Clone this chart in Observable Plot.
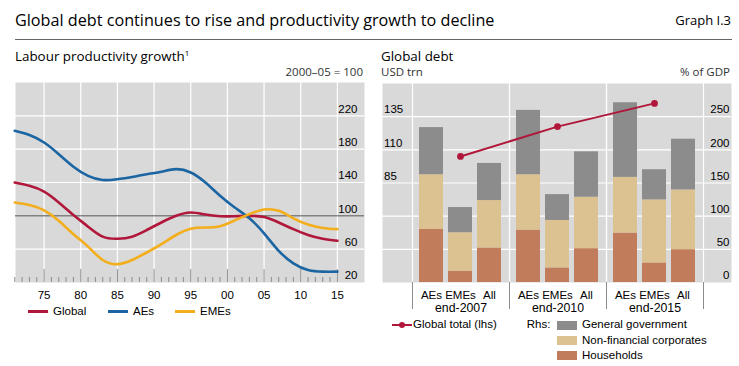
<!DOCTYPE html>
<html>
<head>
<meta charset="utf-8">
<script src="https://cdn.jsdelivr.net/npm/d3@7"></script>
<script src="https://cdn.jsdelivr.net/npm/@observablehq/plot@0.6"></script>
<style>
  html,body{margin:0;padding:0;background:#fff;}
  #chart{position:relative;width:739px;height:366px;overflow:hidden;font-family:"Liberation Sans",Arial,sans-serif;color:#000;}
  .a{position:absolute;white-space:nowrap;line-height:1;}
  .hum{font-family:"Open Sans",sans-serif;}
  .lg{font-size:11.5px;}
  svg{display:block;}
</style>
</head>
<body>
<div id="chart">
  <div class="a hum" style="left:15px;top:12.3px;font-size:16.2px;">Global debt continues to rise and productivity growth to decline</div>
  <div class="a hum" style="right:8px;top:14px;font-size:13px;">Graph I.3</div>
  <div class="a" style="left:15px;top:39px;width:717px;height:1px;background:#666;"></div>
  <div class="a hum" style="left:15px;top:49.8px;font-size:13.4px;">Labour productivity growth<sup style="font-size:8px;vertical-align:5px;line-height:0;">1</sup></div>
  <div class="a hum" style="right:376px;top:65.5px;font-size:11.5px;color:#333;">2000–05 = 100</div>
  <div class="a hum" style="left:381px;top:49.8px;font-size:13.4px;">Global debt</div>
  <div class="a hum" style="left:381px;top:65.5px;font-size:11.5px;color:#333;">USD trn</div>
  <div class="a hum" style="right:9px;top:65.5px;font-size:11.5px;color:#333;">% of GDP</div>
  <div class="a" id="leftPlot" style="left:15px;top:82px;"></div>
  <div class="a" id="rightBase" style="left:382px;top:83px;"></div>
  <div class="a" id="rightBars" style="left:382px;top:83px;"></div>
  <div class="a" id="rightLine" style="left:382px;top:83px;"></div>
  <div id="leftLegend"></div>
  <div id="rightLegend"></div>
</div>
<script>
// ---------- Left panel data: labour productivity (2000–05 = 100) ----------
const years      = [1971,1973,1975,1977,1979,1981,1983,1985,1987,1989,1991,1993,1995,1997,1999,2001,2003,2005,2007,2009,2011,2013,2015];
const globalProd = [140,136,129,116,101,87,75,72.5,75,83,92,100,104,101.5,99.5,99.5,100,98.5,92,84,77,72.5,70];
const aesProd    = [202,197,188,174,159,148,143,144,146.5,150,153,156,152,140,124,110,97,79,58,43,35,33,33];
const emesProd   = [116,113,106.5,94,78,63,47,42,47,56,66,77,84.5,86,87.5,94.5,102,107.5,106,97,89.5,85.5,84];
const seriesNames  = ["Global","AEs","EMEs"];
const seriesColors = ["#b0173a","#1c65a3","#f3ae1b"];
const yearTicks  = [1975,1980,1985,1990,1995,2000,2005,2010,2015];
const minorYears = d3.range(1971, 2016);
const prodTicks  = [20,60,100,140,180,220];

// ---------- Right panel data: global debt ----------
const periods    = ["end-2007","end-2010","end-2015"];
const regions    = ["AEs","EMEs","All"];
const components = ["Households","Non-financial corporates","General government"];
const compColors = ["#c07c5b","#dcc290","#8c8c8c"];
// % of GDP (rhs), ordered period × region
const households = [80,17,52, 79,22,51, 74.5,29.5,49.5];
const nonFinCorp = [82.5,58,71.5, 83.5,71.5,77.5, 84,95,90];
const generalGov = [71,38,56, 97,39,68.5, 112.5,45.5,76.5];
// USD trn (lhs)
const globalTotal = [105,127.5,145];
const gdpTicks = [0,50,100,150,200,250];
const usdTicks = [85,110,135];
const debtRed = "#b0173a";

// ---------- tables ----------
const prodSeries = [globalProd, aesProd, emesProd];
const prodRows = seriesNames.flatMap((s,i) => years.map((y,j) => ({series:s, year:y, value:prodSeries[i][j]})));
const compSeries = [households, nonFinCorp, generalGov];
const debtRows = periods.flatMap((p,pi) => regions.flatMap((r,ri) => components.map((c,ci) => ({period:p, region:r, component:c, value:compSeries[ci][pi*3+ri]}))));
const totalRows = periods.map((p,i) => ({period:p, value:globalTotal[i]}));

const baseStyle = {background:"transparent", fontFamily:"Liberation Sans, Arial, sans-serif", fontSize:"11.5px", color:"#000", overflow:"visible"};

// ---------- Left plot ----------
const leftPlot = Plot.plot({
  width: 349, height: 222, marginTop: 0, marginRight: 0, marginBottom: 22, marginLeft: 0,
  style: baseStyle,
  x: {domain: [1971.1, 2018.7], label: null},
  y: {domain: [20, 260], label: null},
  color: {domain: seriesNames, range: seriesColors},
  marks: [
    Plot.frame({fill: "#d9d9d9", stroke: null}),
    Plot.ruleX(yearTicks, {stroke: "#fff", strokeWidth: 1.2}),
    Plot.ruleY(prodTicks.filter(v => v !== 20 && v !== 100), {stroke: "#fff", strokeWidth: 1.2}),
    Plot.ruleY([100], {stroke: "#555", strokeWidth: 1}),
    Plot.ruleX(minorYears, {x: d => d, y1: 20, y2: d => (d % 5 === 0 ? 35.5 : 26), stroke: "#8c8c8c", strokeWidth: 1}),
    Plot.line(prodRows, {x: "year", y: "value", z: "series", stroke: "series", strokeWidth: 2.6, curve: "natural"}),
    Plot.axisX(yearTicks, {tickSize: 0, tickPadding: 8, tickFormat: d => String(d % 100).padStart(2, "0")}),
    Plot.axisY(prodTicks, {anchor: "right", tickSize: 0, tickPadding: 0, textAnchor: "end", dx: -7, dy: -7})
  ]
});
document.getElementById("leftPlot").appendChild(leftPlot);

// ---------- Right plots ----------
const W = 349, PH = 199;
const baseR = Plot.plot({
  width: W, height: PH, marginTop: 0, marginRight: 0, marginBottom: 0, marginLeft: 0,
  style: baseStyle,
  y: {domain: [0, 300], label: null},
  marks: [
    Plot.frame({fill: "#d9d9d9", stroke: null}),
    Plot.ruleY(gdpTicks.filter(v => v > 0), {stroke: "#fff", strokeWidth: 1.2}),
    Plot.axisY(gdpTicks, {anchor: "right", tickSize: 0, tickPadding: 0, textAnchor: "end", dx: -2, dy: -7})
  ]
});
document.getElementById("rightBase").appendChild(baseR);

const barsR = Plot.plot({
  width: W, height: PH + 32, marginTop: 0, marginBottom: 32, marginLeft: 29, marginRight: 28,
  style: baseStyle,
  fx: {domain: periods, padding: 0, label: null},
  x: {domain: regions, paddingInner: 0.16, paddingOuter: 0.25, label: null},
  y: {domain: [0, 300], axis: null, label: null},
  color: {domain: components, range: compColors},
  marks: [
    Plot.barY(debtRows, {fx: "period", x: "region", y: "value", fill: "component"}),
    Plot.frame({anchor: "left", stroke: "#fff", strokeWidth: 1.2}),
    Plot.frame({anchor: "right", stroke: "#fff", strokeWidth: 1.2}),
    Plot.frame({anchor: "left", stroke: "#8c8c8c", insetTop: PH, insetBottom: -26}),
    Plot.frame({anchor: "right", stroke: "#8c8c8c", insetTop: PH, insetBottom: -26}),
    Plot.axisX({tickSize: 0, tickPadding: 8}),
    Plot.axisFx({anchor: "bottom", tickSize: 0, tickPadding: 20.5, fontSize: 12.3})
  ]
});
document.getElementById("rightBars").appendChild(barsR);

const lineR = Plot.plot({
  width: W, height: PH, marginTop: 0, marginBottom: 0, marginLeft: 29, marginRight: 28,
  style: baseStyle,
  x: {type: "point", domain: periods, padding: 0.5, axis: null, label: null},
  y: {domain: [10, 160], label: null},
  marks: [
    Plot.line(totalRows, {x: "period", y: "value", stroke: debtRed, strokeWidth: 2}),
    Plot.dot(totalRows, {x: "period", y: "value", fill: debtRed, r: 3.4}),
    Plot.axisY(usdTicks, {anchor: "left", tickSize: 0, tickPadding: 0, textAnchor: "start", dx: -27.5, dy: -7})
  ]
});
document.getElementById("rightLine").appendChild(lineR);

// ---------- Legends ----------
const leftLegend = document.getElementById("leftLegend");
const leftItemX = [28, 108, 175];
seriesNames.forEach((s, i) => {
  const sw = document.createElement("div");
  sw.className = "a";
  sw.style.cssText = `left:${leftItemX[i]}px;top:310.2px;width:20px;height:3px;background:${seriesColors[i]};`;
  leftLegend.appendChild(sw);
  const t = document.createElement("div");
  t.className = "a lg";
  t.style.cssText = `left:${leftItemX[i] + 25}px;top:305.7px;`;
  t.textContent = s;
  leftLegend.appendChild(t);
});

const rightLegend = document.getElementById("rightLegend");
rightLegend.innerHTML = `
  <div class="a" style="left:391.7px;top:323.5px;width:20px;height:2.4px;background:${debtRed};"></div>
  <div class="a" style="left:398.5px;top:321.5px;width:6.5px;height:6.5px;border-radius:50%;background:${debtRed};"></div>
  <div class="a lg" style="left:413px;top:319px;">Global total (lhs)</div>
  <div class="a lg" style="left:526.7px;top:319px;">Rhs:</div>`;
const rowY = [325, 340.7, 355.7];
components.slice().reverse().forEach((c, i) => {
  const ci = components.indexOf(c);
  const sw = document.createElement("div");
  sw.className = "a";
  sw.style.cssText = `left:557px;top:${rowY[i] - 4.5}px;width:20px;height:9px;background:${compColors[ci]};`;
  rightLegend.appendChild(sw);
  const t = document.createElement("div");
  t.className = "a lg";
  t.style.cssText = `left:582px;top:${rowY[i] - 6}px;`;
  t.textContent = c;
  rightLegend.appendChild(t);
});
</script>
</body>
</html>
